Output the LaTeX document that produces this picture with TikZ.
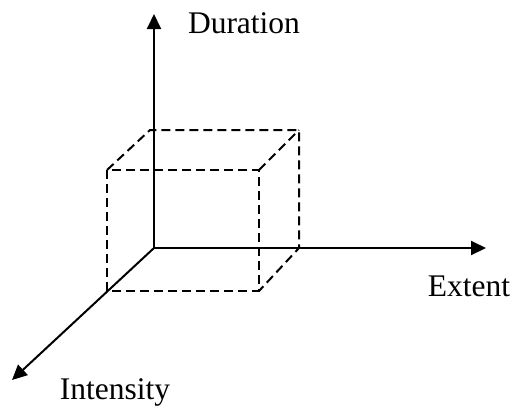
\documentclass[tikz,border=0pt]{standalone}
\usepackage{fontspec}
\setmainfont{Liberation Serif}
\usetikzlibrary{arrows.meta}
\begin{document}
\begin{tikzpicture}[x=1pt,y=-1pt,
  axis/.style={line width=2pt,-{Triangle[length=15pt,width=14pt]}},
  edge/.style={line width=2pt,dash pattern=on 9pt off 5pt},
  lbl/.style={font=\fontsize{31.5}{36}\selectfont,inner sep=0pt}]
\useasboundingbox (0,0) rectangle (515,408);
% axes
\coordinate (O) at (154,248);
\coordinate (Dtip) at (154,14);
\coordinate (Etip) at (486,248);
\coordinate (Itip) at (12,380);
\draw[axis] (O) -- (Dtip);
\draw[axis] (O) -- (Etip);
\draw[axis] (O) -- (Itip);
% cube corners
\coordinate (ftl) at (107,170);
\coordinate (ftr) at (259,170);
\coordinate (fbl) at (107,291);
\coordinate (fbr) at (259,291);
\coordinate (btl) at (150,130);
\coordinate (btr) at (299,130);
\coordinate (bbr) at (299,248);
\draw[edge] (fbl) -- (ftl) -- (ftr) -- (fbr) -- (fbl);
\draw[edge] (ftl) -- (btl) -- (btr) -- (bbr) -- (fbr);
\draw[edge] (ftr) -- (btr);
% labels
\node[lbl] (dur) at (244,23) {Duration};
\node[lbl] (ext) at (469,286) {Extent};
\node[lbl] (int) at (115,392) {Intensity};
\end{tikzpicture}
\end{document}
